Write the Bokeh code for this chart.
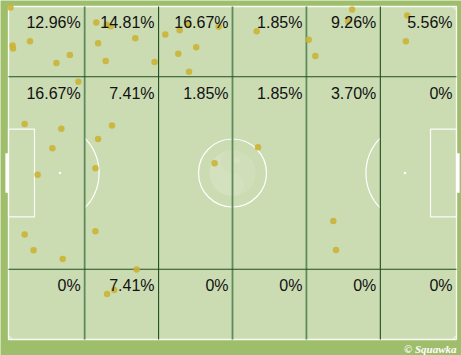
import numpy as np
from bokeh.plotting import figure
from bokeh.models import Range1d
from bokeh.embed import file_html
from bokeh.resources import INLINE
from bokeh.core.properties import value

# ---------------- data ----------------
# zone boundaries (pitch units 0-100, y measured from the top touchline)
zone_x_edges = [0, 17, 33.5, 50, 66.5, 83, 100]
zone_y_edges = [0, 21.1, 78.9, 100]

row_top_labels = ["12.96%", "14.81%", "16.67%", "1.85%", "9.26%", "5.56%"]
row_mid_labels = ["16.67%", "7.41%", "1.85%", "1.85%", "3.70%", "0%"]
row_bot_labels = ["0%", "7.41%", "0%", "0%", "0%", "0%"]

dot_x = [0.45, 0.9, 1.0, 4.8, 13.7, 10.7, 19.6, 21.9, 22.8, 20.0, 28.3, 21.7,
         32.6, 15.6, 35.0, 38.2, 40.1, 46.9, 41.9, 37.9, 40.3, 55.4, 67.0,
         76.7, 75.8, 68.5, 89.0, 88.7, 3.6, 11.8, 9.8, 6.5, 3.6, 5.6, 12.1,
         23.1, 20.0, 19.4, 19.4, 28.6, 46.0, 55.7, 72.5, 73.1, 23.6, 22.0]
dot_y = [0.3, 11.7, 12.6, 10.4, 14.6, 17.0, 4.8, 5.5, 5.9, 11.0, 9.5, 16.4,
         16.7, 22.6, 8.4, 7.1, 5.5, 6.1, 12.2, 14.2, 19.6, 7.4, 10.0,
         0.9, 4.4, 14.9, 2.7, 10.4, 35.3, 36.7, 42.6, 50.5, 68.5, 73.2, 75.8,
         35.7, 39.8, 48.6, 67.5, 79.0, 47.1, 42.3, 64.4, 73.1, 85.1, 86.3]

# ---------------- layout / styles ----------------
W, H = 461, 355
PX0, PY0 = 8, 6          # pitch top-left in pixels
SX, SY = 4.48, 3.33      # pixels per pitch unit

OUTER = "#9ebe6c"
PITCH = "#cbdcb3"
DARK = "#1f4f1f"
MID = "#5e8b5e"

p = figure(width=W, height=H,
           x_range=Range1d(-PX0 / SX, (W - PX0) / SX),
           y_range=Range1d((H - PY0) / SY, -PY0 / SY),
           x_axis_location=None, y_axis_location=None,
           toolbar_location=None, output_backend="svg", min_border=0)
p.grid.visible = False
p.outline_line_color = None
p.background_fill_color = OUTER
p.border_fill_color = OUTER

# pitch surface + touchlines
p.quad(left=[0], right=[100], top=[0], bottom=[100],
       fill_color=PITCH, line_color="white", line_width=1.3, line_alpha=0.9)

# watermark logo in the centre
R = 23
t = np.linspace(0, 2 * np.pi, 100)
p.patch(50 + R / SX * np.cos(t), 50 + R / SY * np.sin(t),
        fill_color="white", fill_alpha=0.1, line_color=None)
tb = np.linspace(-np.pi / 2, np.pi / 2, 50)
big = [(50 - R / SX * np.cos(a), 50 + R / SY * np.sin(a)) for a in tb]
small_bot = [(50 + R / 2 / SX * np.cos(a), 50 + R / 2 / SY + R / 2 / SY * np.sin(a))
             for a in np.linspace(np.pi / 2, -np.pi / 2, 40)]
small_top = [(50 - R / 2 / SX * np.cos(a), 50 - R / 2 / SY + R / 2 / SY * np.sin(a))
             for a in np.linspace(np.pi / 2, -np.pi / 2, 40)]
yy = big + small_bot + small_top
p.patch([q[0] for q in yy], [q[1] for q in yy],
        fill_color="white", fill_alpha=0.08, line_color=None)
p.scatter([50 + R * 0.18 / SX], [50 - R * 0.55 / SY], size=7,
          fill_color="white", fill_alpha=0.1, line_color=None)

# goals
p.quad(left=[-0.7, 100], right=[0, 100.7], top=[44.1, 44.1], bottom=[55.9, 55.9],
       fill_color="white", line_color=None)
# goal areas
p.quad(left=[0, 94.2], right=[5.8, 100], top=[36.8, 36.8], bottom=[63.2, 63.2],
       fill_color=None, line_color="white", line_width=1.2, line_alpha=0.9)
# penalty spots
p.scatter([11.5, 88.5], [50, 50], size=2.5, fill_color="white", line_color=None)
# centre circle
p.ellipse(x=[50], y=[50], width=[2 * 34 / SX], height=[2 * 34 / SY],
          fill_color=None, line_color="white", line_width=1.2)
# penalty arcs (D)
ta = np.linspace(-np.arccos(5.5 / 8.71), np.arccos(5.5 / 8.71), 40)
p.line(11.5 + 8.71 * np.cos(ta), 50 + 13.46 * np.sin(ta), line_color="white", line_width=1.2)
p.line(88.5 - 8.71 * np.cos(ta), 50 + 13.46 * np.sin(ta), line_color="white", line_width=1.2)
# corner arcs
tc = np.linspace(0, np.pi / 2, 10)
rc = 3
for cx, cy, fx, fy in [(0, 0, 1, 1), (100, 0, -1, 1), (0, 100, 1, -1), (100, 100, -1, -1)]:
    p.line(cx + fx * rc / SX * np.cos(tc), cy + fy * rc / SY * np.sin(tc),
           line_color="white", line_width=1)

# zone grid lines
vx = zone_x_edges[1:-1]
v_colors = [MID, DARK, MID, MID, DARK]
v_widths = [1.8, 1.1, 1.8, 1.8, 1.1]
p.segment(x0=vx, y0=[0] * len(vx), x1=vx, y1=[100] * len(vx),
          line_color=v_colors, line_width=v_widths)
hy = zone_y_edges[1:-1]
p.segment(x0=[0] * len(hy), y0=hy, x1=[100] * len(hy), y1=hy,
          line_color=DARK, line_width=1.2)

# events
p.scatter(dot_x, dot_y, size=6.5, fill_color="#cbb332", fill_alpha=0.88, line_color=None)

# zone percentages
lab_x, lab_y, lab_t = [], [], []
for r, row in enumerate([row_top_labels, row_mid_labels, row_bot_labels]):
    for c, txt in enumerate(row):
        lab_x.append(zone_x_edges[c + 1] - 4 / SX)
        lab_y.append(zone_y_edges[r] + 16.3 / SY)
        lab_t.append(txt)
p.text(x=lab_x, y=lab_y, text=lab_t, text_align="right", text_baseline="alphabetic",
       text_font=value("Liberation Sans"), text_font_size="16px", text_color="#111111")

# watermark text
p.text(x=[100], y=[100 + 3 / SY], text=["© Squawka"], text_align="right",
       text_baseline="top", text_font=value("Liberation Serif"),
       text_font_style="bold italic", text_font_size="11px", text_color="white")

open("out.html", "w").write(file_html(p, INLINE))
